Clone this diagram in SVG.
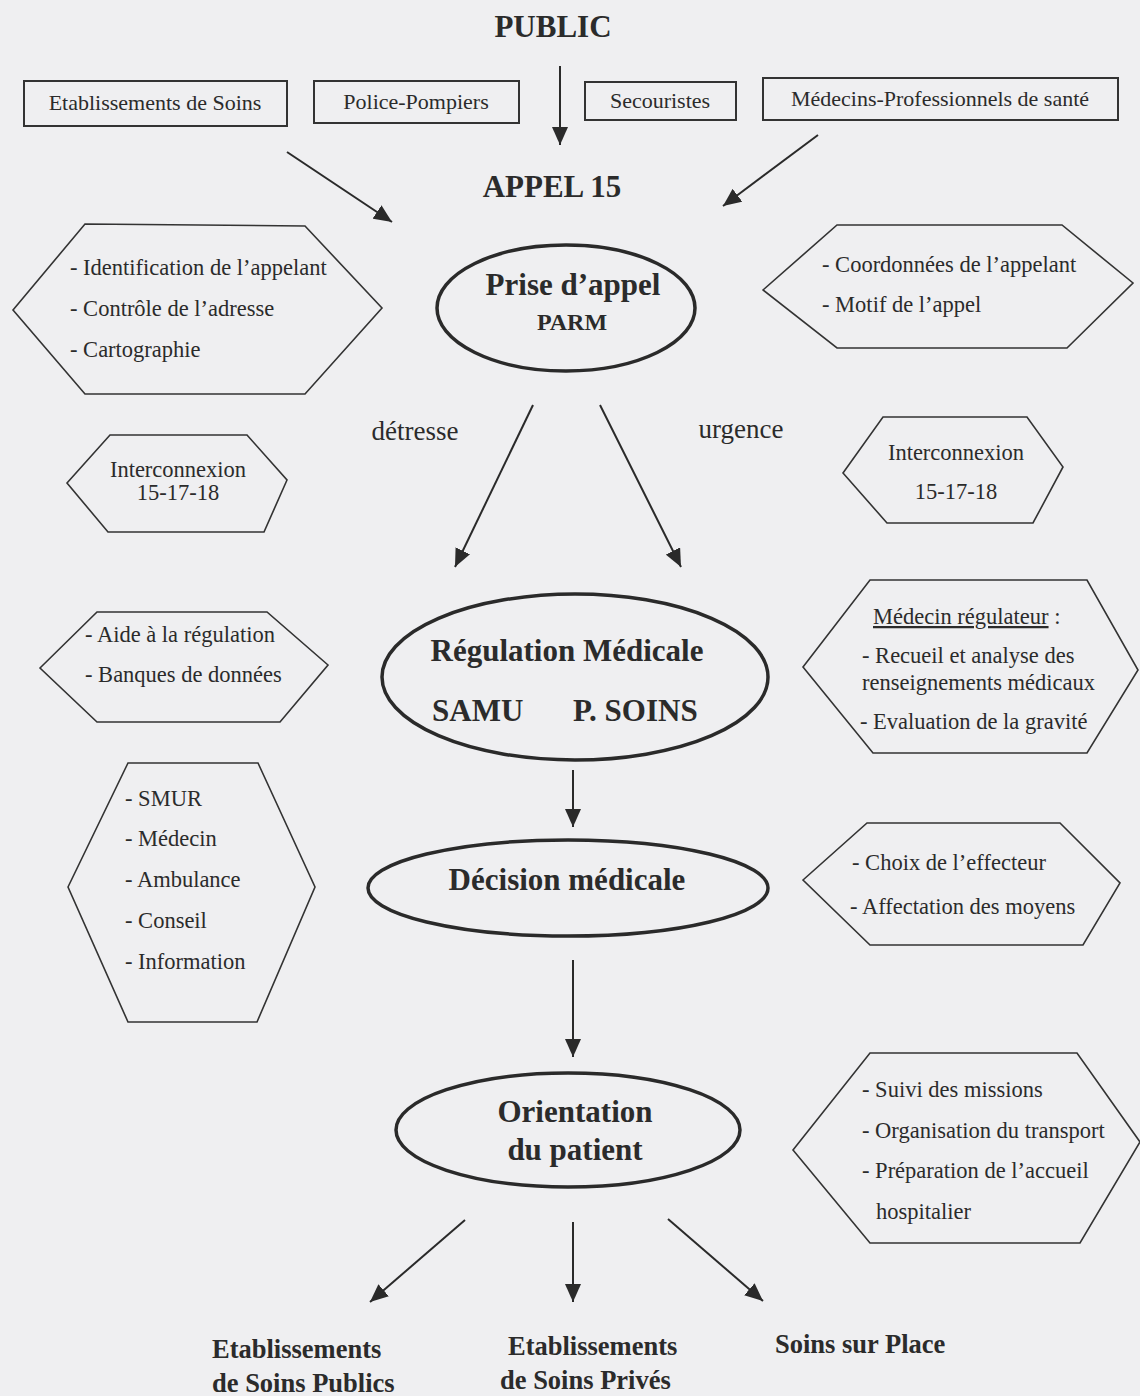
<svg xmlns="http://www.w3.org/2000/svg" width="1140" height="1396" viewBox="0 0 1140 1396">
<style>
text{font-family:"Liberation Serif","Times New Roman",serif;fill:#2b2b2b}
.t{font-size:22.5px}
.b{font-size:22px}
.h{font-size:31px;font-weight:bold}
.bb{font-size:26.5px;font-weight:bold}
.lb{font-size:27px}
.m{text-anchor:middle}
.box{fill:none;stroke:#333;stroke-width:2}
.hex{fill:none;stroke:#333;stroke-width:1.6}
.ell{fill:none;stroke:#2a2a2a;stroke-width:3.5}
.ln{stroke:#2a2a2a;stroke-width:2;fill:none;marker-end:url(#ah)}
</style>
<defs>
<marker id="ah" markerUnits="userSpaceOnUse" markerWidth="20" markerHeight="16" refX="18" refY="8" orient="auto">
<path d="M0,0 L18,8 L0,16 z" fill="#2a2a2a"/>
</marker>
</defs>
<rect width="1140" height="1396" fill="#efeff1"/>

<g id="public"><text class="h m" x="553" y="37">PUBLIC</text></g>
<g id="appel15"><text class="h m" x="552" y="197">APPEL 15</text></g>

<g id="box-etab"><rect class="box" x="24" y="81" width="263" height="45"/><text class="b m" x="155" y="110">Etablissements de Soins</text></g>
<g id="box-police"><rect class="box" x="314" y="81" width="205" height="42"/><text class="b m" x="416" y="109">Police-Pompiers</text></g>
<g id="box-secour"><rect class="box" x="585" y="82" width="151" height="38"/><text class="b m" x="660" y="108">Secouristes</text></g>
<g id="box-medecins"><rect class="box" x="763" y="78" width="355" height="42"/><text class="b m" x="940" y="106">Médecins-Professionnels de santé</text></g>

<g id="prise"><ellipse class="ell" cx="566" cy="308" rx="129" ry="63"/><text class="h m" x="573" y="295">Prise d’appel</text><text class="m" style="font-size:24px;font-weight:bold" x="572" y="330">PARM</text></g>

<g id="hex-ident"><polygon class="hex" points="13,310 85,224 305,226 382,308 305,394 85,394"/>
<text class="t" x="70" y="275">- Identification de l’appelant</text>
<text class="t" x="70" y="316">- Contrôle de l’adresse</text>
<text class="t" x="70" y="357">- Cartographie</text></g>

<g id="hex-coord"><polygon class="hex" points="763,290 837,225 1062,225 1133,283 1067,348 837,348"/>
<text class="t" x="822" y="272">- Coordonnées de l’appelant</text>
<text class="t" x="822" y="312">- Motif de l’appel</text></g>

<g id="lbl-detresse"><text class="lb m" x="415" y="440">détresse</text></g>
<g id="lbl-urgence"><text class="lb m" x="741" y="438">urgence</text></g>

<g id="hex-inter-l"><polygon class="hex" points="67,483 110,435 247,435 287,480 264,532 108,532"/>
<text class="t m" x="178" y="477">Interconnexion</text>
<text class="t m" x="178" y="500">15-17-18</text></g>

<g id="hex-inter-r"><polygon class="hex" points="843,473 883,417 1027,417 1063,467 1033,523 887,523"/>
<text class="t m" x="956" y="460">Interconnexion</text>
<text class="t m" x="956" y="499">15-17-18</text></g>

<g id="regulation"><ellipse class="ell" cx="575" cy="677" rx="193" ry="83"/>
<text class="h m" x="567" y="661">Régulation Médicale</text>
<text class="h" x="432" y="721">SAMU</text>
<text class="h" x="573" y="721">P. SOINS</text></g>

<g id="hex-aide"><polygon class="hex" points="40,668 97,612 267,612 328,665 280,722 97,722"/>
<text class="t" x="85" y="642">- Aide à la régulation</text>
<text class="t" x="85" y="682">- Banques de données</text></g>

<g id="hex-medreg"><polygon class="hex" points="803,667 870,580 1087,580 1138,670 1087,753 873,753"/>
<text class="t" x="873" y="624"><tspan text-decoration="underline">Médecin régulateur</tspan> :</text>
<text class="t" x="862" y="663">- Recueil et analyse des</text>
<text class="t" x="862" y="690">renseignements médicaux</text>
<text class="t" x="860" y="729">- Evaluation de la gravité</text></g>

<g id="decision"><ellipse class="ell" cx="568" cy="888" rx="200" ry="48"/>
<text class="h m" x="567" y="890">Décision médicale</text></g>

<g id="hex-smur"><polygon class="hex" points="68,887 128,763 258,763 315,887 257,1022 128,1022"/>
<text class="t" x="125" y="806">- SMUR</text>
<text class="t" x="125" y="846">- Médecin</text>
<text class="t" x="125" y="887">- Ambulance</text>
<text class="t" x="125" y="928">- Conseil</text>
<text class="t" x="125" y="969">- Information</text></g>

<g id="hex-choix"><polygon class="hex" points="803,880 867,823 1060,823 1120,883 1083,945 870,945"/>
<text class="t" x="852" y="870">- Choix de l’effecteur</text>
<text class="t" x="850" y="914">- Affectation des moyens</text></g>

<g id="orientation"><ellipse class="ell" cx="568" cy="1130" rx="172" ry="57"/>
<text class="h m" x="575" y="1122">Orientation</text>
<text class="h m" x="575" y="1160">du patient</text></g>

<g id="hex-suivi"><polygon class="hex" points="793,1150 870,1053 1077,1053 1140,1142 1080,1243 870,1243"/>
<text class="t" x="862" y="1097">- Suivi des missions</text>
<text class="t" x="862" y="1138">- Organisation du transport</text>
<text class="t" x="862" y="1178">- Préparation de l’accueil</text>
<text class="t" x="876" y="1219">hospitalier</text></g>

<g id="dest-publics"><text class="bb" x="212" y="1358">Etablissements</text><text class="bb" x="212" y="1392">de Soins Publics</text></g>
<g id="dest-prives"><text class="bb" x="508" y="1355">Etablissements</text><text class="bb" x="500" y="1389">de Soins Privés</text></g>
<g id="dest-place"><text class="bb" x="775" y="1353">Soins sur Place</text></g>

<g id="connectors">
<line class="ln" x1="560" y1="66" x2="560" y2="145"/>
<line class="ln" x1="287" y1="152" x2="392" y2="222"/>
<line class="ln" x1="818" y1="135" x2="723" y2="206"/>
<line class="ln" x1="533" y1="405" x2="455" y2="567"/>
<line class="ln" x1="600" y1="405" x2="681" y2="567"/>
<line class="ln" x1="573" y1="770" x2="573" y2="827"/>
<line class="ln" x1="573" y1="960" x2="573" y2="1057"/>
<line class="ln" x1="465" y1="1220" x2="370" y2="1302"/>
<line class="ln" x1="573" y1="1222" x2="573" y2="1302"/>
<line class="ln" x1="668" y1="1219" x2="763" y2="1301"/>
</g>
</svg>
